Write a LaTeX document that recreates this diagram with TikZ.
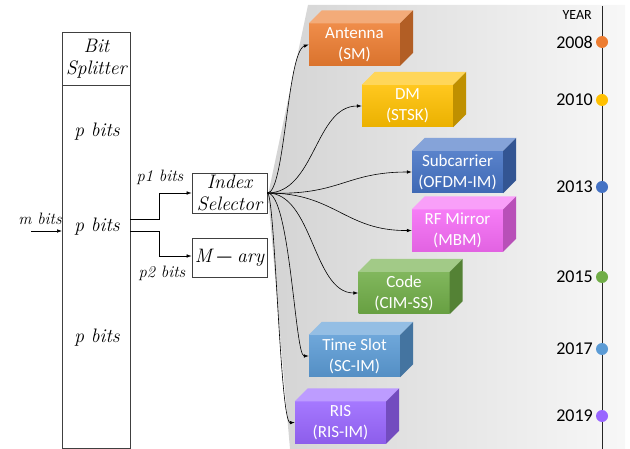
\documentclass[tikz,border=0pt]{standalone}
\usepackage{fontspec}
\newfontfamily\carl{Carlito}
\usetikzlibrary{arrows.meta,calc}
\definecolor{cOr}{HTML}{ED7D31}
\definecolor{cGo}{HTML}{FFC000}
\definecolor{cBl}{HTML}{4472C4}
\definecolor{cMa}{HTML}{F56BF5}
\definecolor{cGr}{HTML}{70AD47}
\definecolor{cLb}{HTML}{5B9BD5}
\definecolor{cPu}{HTML}{9966FF}
\tikzset{
  arr/.style={-{Latex[length=5pt,width=3.6pt]}, line width=0.6pt, black},
  mbox/.style={draw=black!75, line width=0.8pt, fill=white, align=center, inner sep=0pt},
  mtext/.style={font=\itshape\fontsize{19.5}{22}\selectfont, align=center, inner sep=0pt},
  stext/.style={font=\itshape\fontsize{16.5}{18}\selectfont, inner sep=0pt},
  cube/.style={minimum width=91pt, minimum height=42pt, inner sep=0pt, align=center,
     text=white, font=\carl\fontsize{17}{21}\selectfont,
     top color=#1!88!white, bottom color=#1!92!black},
  yr/.style={font=\carl\fontsize{18}{20}\selectfont, anchor=east, inner sep=0pt},
  dot/.style={circle, fill=#1, minimum size=12pt, inner sep=0pt}
}
\newcommand\cubefaces[2]{%
  \fill[#2!65!white] (#1.north west) -- ([shift={(13,-13)}]#1.north west)
     -- ([shift={(13,-13)}]#1.north east) -- (#1.north east) -- cycle;
  \fill[#2!75!black] (#1.north east) -- ([shift={(13,-13)}]#1.north east)
     -- ([shift={(13,-13)}]#1.south east) -- (#1.south east) -- cycle;
}
\begin{document}
\begin{tikzpicture}[x=1pt,y=-1pt]
\useasboundingbox (0,0) rectangle (630,449);
% background
\shade[left color=black!17, right color=black!3] (308,5) -- (268,195) -- (290,449) -- (625,449) -- (625,5) -- cycle;

% bit splitter
\node[mbox, minimum width=68pt, minimum height=53pt, anchor=north west, mtext] (bs) at (62,32) {Bit\\Splitter};
\node[mbox, minimum width=68pt, minimum height=363pt, anchor=north west] (body) at (62,85) {};
\node[mtext] (p1) at (97,132) {p bits};
\node[mtext] (p2) at (97,227) {p bits};
\node[mtext] (p3) at (97,338) {p bits};

\coordinate (min) at (31,231);
\draw[arr] (min) -- (body.west |- min);
\node[stext] (mb) at (40,219) {m bits};

% index selector / M-ary
\node[mbox, mtext, minimum width=75pt, minimum height=40pt] (is) at (229.5,193) {Index\\Selector};
\node[mbox, mtext, minimum width=75pt, minimum height=39pt] (ma) at (229.5,257.5) {M\kern4pt\textup{\textbf{\textminus}}\kern4pt ary};
\coordinate (o1) at (130,219);
\coordinate (o2) at (130,231);
\draw[arr] (o1) -- (159,219) |- (is.west);
\draw[arr] (o2) -- (159,231) |- ([yshift=1.5pt]ma.west);
\node[stext] (l1) at (160,177) {p1 bits};
\node[stext] (l2) at (162,273) {p2 bits};

% cubes
\node[cube=cOr] (ant) at (354.5,44.5) {Antenna\\(SM)};
\node[cube=cGo] (dm) at (407.5,106) {DM\\(STSK)};
\node[cube=cBl] (sub) at (457.5,172) {Subcarrier\\(OFDM-IM)};
\node[cube=cMa] (rf) at (457.5,230.5) {RF Mirror\\(MBM)};
\node[cube=cGr] (code) at (404,293) {Code\\(CIM-SS)};
\node[cube=cLb] (ts) at (354.5,356) {Time Slot\\(SC-IM)};
\node[cube=cPu] (ris) at (340.5,422.5) {RIS\\(RIS-IM)};
\cubefaces{ant}{cOr}
\cubefaces{dm}{cGo}
\cubefaces{sub}{cBl}
\cubefaces{rf}{cMa}
\cubefaces{code}{cGr}
\cubefaces{ts}{cLb}
\cubefaces{ris}{cPu}

% connectors
\draw[arr] (is.east) .. controls (285,193) and (287,52) .. (ant.west);
\draw[arr] (is.east) .. controls (315,193) and (315,106) .. (dm.west);
\draw[arr] (is.east) .. controls (340,196) and (345,172) .. (sub.west);
\draw[arr] (is.east) .. controls (335,193) and (345,231) .. (rf.west);
\draw[arr] (is.east) .. controls (313,193) and (313,293) .. (code.west);
\draw[arr] (is.east) .. controls (290,193) and (295,356) .. (ts.west);
\draw[arr] (is.east) .. controls (275,193) and (280,423) .. (ris.west);

% timeline
\coordinate (tt) at (602,6);
\coordinate (tb) at (602,449);
\draw[line width=0.8pt, black!85] (tt) -- (tb);
\node[font=\carl\fontsize{14}{16}\selectfont, anchor=east, inner sep=0pt] (year) at (592,15) {YEAR};
\node[dot=cOr] (d1) at (602,42) {};
\node[dot=cGo] (d2) at (602,100) {};
\node[dot=cBl] (d3) at (602,187) {};
\node[dot=cGr] (d4) at (602,277) {};
\node[dot=cLb] (d5) at (602,349) {};
\node[dot=cPu] (d6) at (602,416) {};
\node[yr] (y1) at (593,42) {2008};
\node[yr] (y2) at (593,100) {2010};
\node[yr] (y3) at (593,187) {2013};
\node[yr] (y4) at (593,277) {2015};
\node[yr] (y5) at (593,349) {2017};
\node[yr] (y6) at (593,416) {2019};
\end{tikzpicture}
\end{document}
